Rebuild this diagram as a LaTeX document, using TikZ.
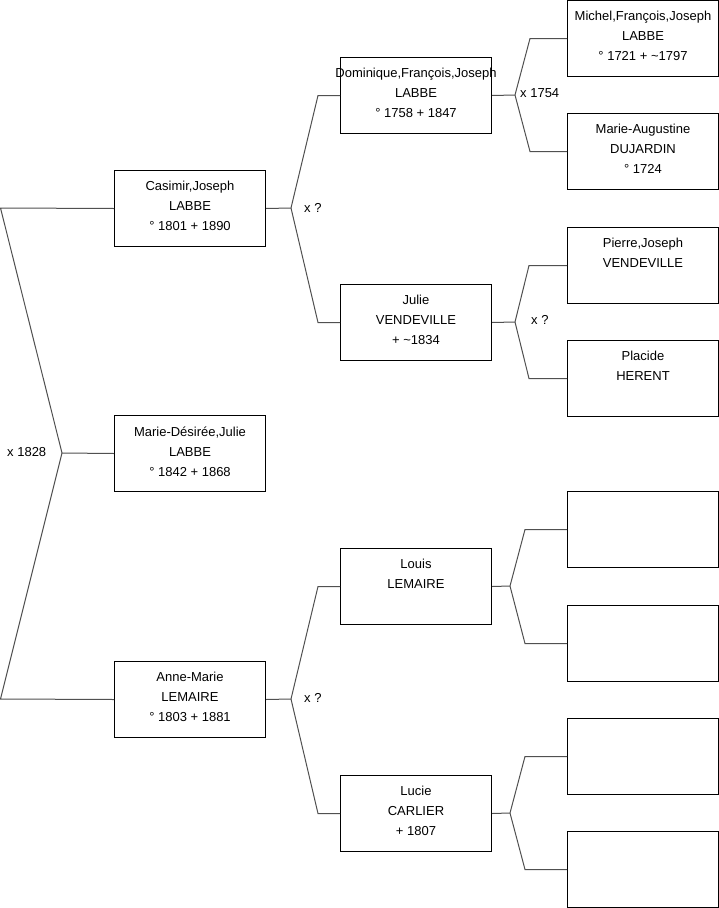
\documentclass[tikz,border=0pt]{standalone}
\usepackage{fontspec}
\setmainfont{Liberation Sans}
\definecolor{conn}{RGB}{80,80,80}
\newcommand{\pb}[1]{\parbox[c][76pt][t]{151pt}{\vspace*{11pt}\centering\fontsize{13}{20}\selectfont #1}}
\newcommand{\wl}[1]{\makebox[0pt]{#1}}
\begin{document}
\begin{tikzpicture}[x=1pt,y=-1pt,
  person/.style={draw=black,line width=1pt,rectangle,inner sep=0pt,minimum width=151pt,minimum height=76pt,anchor=north west},
  link/.style={draw=conn,line width=1pt},
  mar/.style={font=\fontsize{13}{15}\selectfont,anchor=west,inner sep=0pt}]
\useasboundingbox (0,0) rectangle (719,908);
% generation 1
\node[person] (cas) at (114,170) {\pb{Casimir,Joseph\\LABBE\\° 1801 + 1890}};
\node[person] (md) at (114,415) {\pb{Marie-Désirée,Julie\\LABBE\\° 1842 + 1868}};
\node[person] (am) at (114,661) {\pb{Anne-Marie\\LEMAIRE\\° 1803 + 1881}};
% generation 2
\node[person] (dom) at (340,57) {\pb{\wl{Dominique,François,Joseph}\\LABBE\\° 1758 + 1847}};
\node[person] (jul) at (340,284) {\pb{Julie\\VENDEVILLE\\+ \textasciitilde1834}};
\node[person] (lou) at (340,548) {\pb{Louis\\LEMAIRE}};
\node[person] (luc) at (340,775) {\pb{Lucie\\CARLIER\\+ 1807}};
% generation 3
\node[person] (mic) at (567,0) {\pb{\wl{Michel,François,Joseph}\\LABBE\\° 1721 + \textasciitilde1797}};
\node[person] (mau) at (567,113) {\pb{Marie-Augustine\\DUJARDIN\\° 1724}};
\node[person] (pie) at (567,227) {\pb{Pierre,Joseph\\VENDEVILLE}};
\node[person] (pla) at (567,340) {\pb{Placide\\HERENT}};
\node[person] (e1) at (567,491) {};
\node[person] (e2) at (567,605) {};
\node[person] (e3) at (567,718) {};
\node[person] (e4) at (567,831) {};
% junctions
\coordinate (jr) at (62,453);
\coordinate (jc) at (291,208);
\coordinate (ja) at (291,699);
\coordinate (jd) at (515,95);
\coordinate (jj) at (515,322);
\coordinate (jl) at (510,586);
\coordinate (jk) at (510,813);
% connectors
\draw[link] (cas.west) -- (0.5,208) -- (jr) -- (md.west);
\draw[link] (am.west) -- (0.5,699) -- (jr);
\draw[link] (cas.east) -- (jc);
\draw[link] (dom.west) -- ++(-22,0) -- (jc);
\draw[link] (jul.west) -- ++(-22,0) -- (jc);
\draw[link] (am.east) -- (ja);
\draw[link] (lou.west) -- ++(-22,0) -- (ja);
\draw[link] (luc.west) -- ++(-22,0) -- (ja);
\draw[link] (dom.east) -- (jd);
\draw[link] (mic.west) -- ++(-37,0) -- (jd);
\draw[link] (mau.west) -- ++(-37,0) -- (jd);
\draw[link] (jul.east) -- (jj);
\draw[link] (pie.west) -- ++(-38,0) -- (jj);
\draw[link] (pla.west) -- ++(-38,0) -- (jj);
\draw[link] (lou.east) -- (jl);
\draw[link] (e1.west) -- ++(-42,0) -- (jl);
\draw[link] (e2.west) -- ++(-42,0) -- (jl);
\draw[link] (luc.east) -- (jk);
\draw[link] (e3.west) -- ++(-42,0) -- (jk);
\draw[link] (e4.west) -- ++(-42,0) -- (jk);
% marriage labels
\node[mar] (m1) at (7,452) {x 1828};
\node[mar] (m2) at (304,208) {x ?};
\node[mar] (m3) at (304,698) {x ?};
\node[mar] (m4) at (520,93) {x 1754};
\node[mar] (m5) at (531,320) {x ?};
\end{tikzpicture}
\end{document}
